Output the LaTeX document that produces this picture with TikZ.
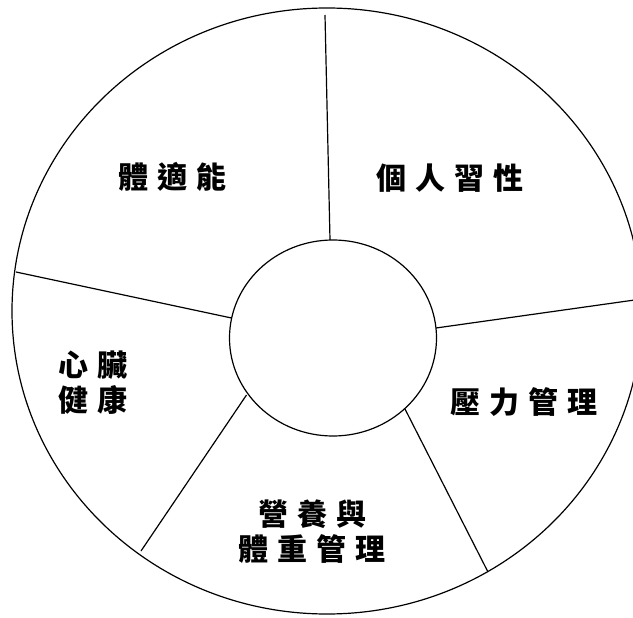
\documentclass[tikz,border=0pt]{standalone}
\usepackage{fontspec}
\newfontfamily\cjk{Noto Sans CJK TC Black}
\newcommand\gp{\hspace{9pt}}
\tikzset{
  ring/.style={draw=black, line width=1.2pt},
  spoke/.style={draw=black, line width=1.2pt},
  label/.style={font=\cjk\fontsize{30}{35}\selectfont, align=center, inner sep=0pt, text=black}
}
\begin{document}
\begin{tikzpicture}[x=1pt, y=-1pt]
  \useasboundingbox[fill=white] (0,0) rectangle (633,618);
  \clip (0,0) rectangle (633,618);
  % outer and inner rings
  \draw[ring] (327,311) ellipse [x radius=315pt, y radius=303pt];
  \draw[ring] (333,338) ellipse [x radius=103.5pt, y radius=98pt];
  % spoke end points
  \coordinate (o1) at (325,15);   \coordinate (i1) at (330,240);
  \coordinate (o2) at (16,272);   \coordinate (i2) at (231.5,318);
  \coordinate (o3) at (641.7,299);\coordinate (i3) at (436,328);
  \coordinate (o4) at (488,572);  \coordinate (i4) at (405,409);
  \coordinate (o5) at (141,551);  \coordinate (i5) at (246.5,395);
  \draw[spoke] (o1) -- (i1);
  \draw[spoke] (o2) -- (i2);
  \draw[spoke] (o3) -- (i3);
  \draw[spoke] (o4) -- (i4);
  \draw[spoke] (o5) -- (i5);
  % labels
  \node[label] (t1) at (172,177) {體\gp 適\gp 能};
  \node[label] (t2) at (450,178) {個\gp 人\gp 習\gp 性};
  \node[label] (t3) at (93,383) {心\gp 臟\\健\gp 康};
  \node[label] (t4) at (524,402) {壓\gp 力\gp 管\gp 理};
  \node[label] (t5) at (312,531.5) {營\gp 養\gp 與\\體\gp 重\gp 管\gp 理};
\end{tikzpicture}
\end{document}
